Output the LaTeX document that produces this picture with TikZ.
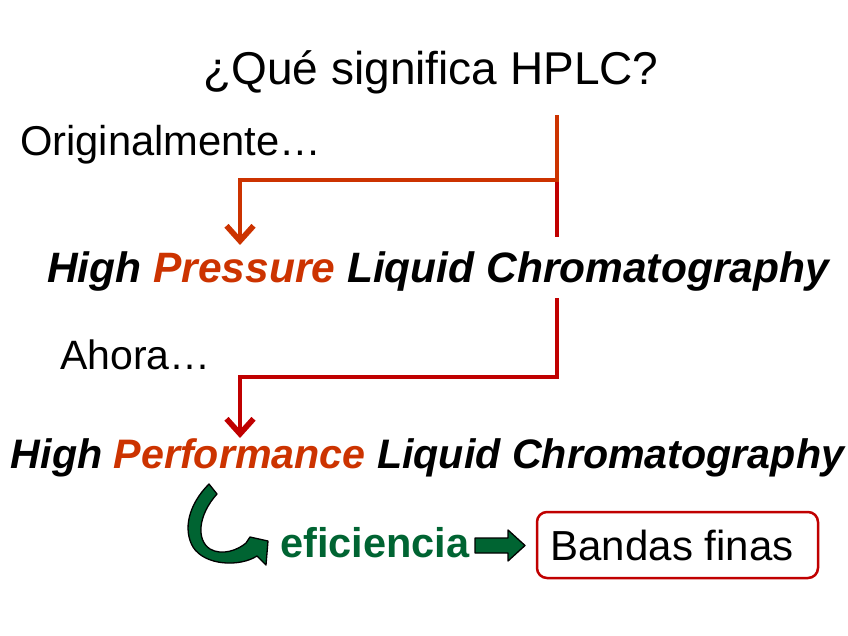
\documentclass[tikz,border=0pt]{standalone}
\usepackage{fontspec}
\setmainfont{Liberation Sans}
\usetikzlibrary{positioning, calc, arrows.meta}
\definecolor{cO}{RGB}{204,51,0}
\definecolor{cR}{RGB}{192,0,0}
\definecolor{cG}{RGB}{0,100,50}

\begin{document}
\begin{tikzpicture}[x=1pt, y=-1pt,
    oline/.style={line width=3.5pt, draw=cO, -{Straight Barb[length=15pt, width=27pt, line width=0pt 1.6]}},
    rline/.style={line width=3.5pt, draw=cR, -{Straight Barb[length=15pt, width=27pt, line width=0pt 1.6]}},
    greenarrow/.style={fill=cG, draw=black, line width=1.3pt, line join=round},
    bigline/.style={anchor=base, inner sep=6pt, text height=40pt, text depth=9pt}]
    \useasboundingbox (0,0) rectangle (848,636);

    % Title and side notes
    \node[anchor=base, font=\fontsize{46}{51}\selectfont] (title) at (431,85) {¿Qué significa HPLC?};
    \node[anchor=base west, inner sep=0pt, font=\fontsize{41.7}{46}\selectfont] (orig) at (20,156) {Originalmente…};
    \node[anchor=base west, inner sep=0pt, font=\fontsize{41}{46}\selectfont] (ahora) at (60,369) {Ahora…};

    % Branch points
    \coordinate (split) at (557,180);
    \coordinate (tipP) at (240,245);
    \coordinate (tipF) at (240,438);

    % Red branch (behind the first line)
    \draw[rline] (split) -- ++(0,197) -| (tipF);

    % The two meanings
    \node[bigline, fill=white, font=\fontsize{42.5}{48}\selectfont\bfseries\itshape] (hpress) at (438,283)
        {High \textcolor{cO}{Pressure} Liquid Chromatography};
    \node[bigline, font=\fontsize{41.2}{47}\selectfont\bfseries\itshape] (hperf) at (427.5,468)
        {High \textcolor{cO}{Performance} Liquid Chromatography};

    % Orange branch
    \draw[oline] ([yshift=-17pt]title.south -| split) -- (split) -| (tipP);

    % Curved block arrow
    \draw[greenarrow] (209,484) -- (217,494) .. controls (198,515) and (196,540) .. (210,549)
        .. controls (222,556) and (238,550) .. (246,543) -- (250,537) -- (268,541) -- (266,565)
        -- (257,556) .. controls (240,567) and (205,566) .. (193,547)
        .. controls (183,530) and (188,505) .. (209,484) -- cycle;

    % Efficiency and result
    \node[anchor=base west, inner sep=0pt, text=cG, font=\fontsize{41.5}{46}\selectfont\bfseries] (effi) at (280,557) {eficiencia};
    \node[draw=cR, line width=2.5pt, rounded corners=10pt, minimum width=281pt, minimum height=66pt,
        font=\fontsize{42}{47}\selectfont] (bandas) at (677.5,545) {Bandas finas\hspace*{11pt}};

    % Straight block arrow
    \draw[greenarrow] (475,538) -- (508,538) -- (508,530) -- (525,545.5) -- (508,561)
        -- (508,553) -- (475,553) -- cycle;
\end{tikzpicture}
\end{document}
